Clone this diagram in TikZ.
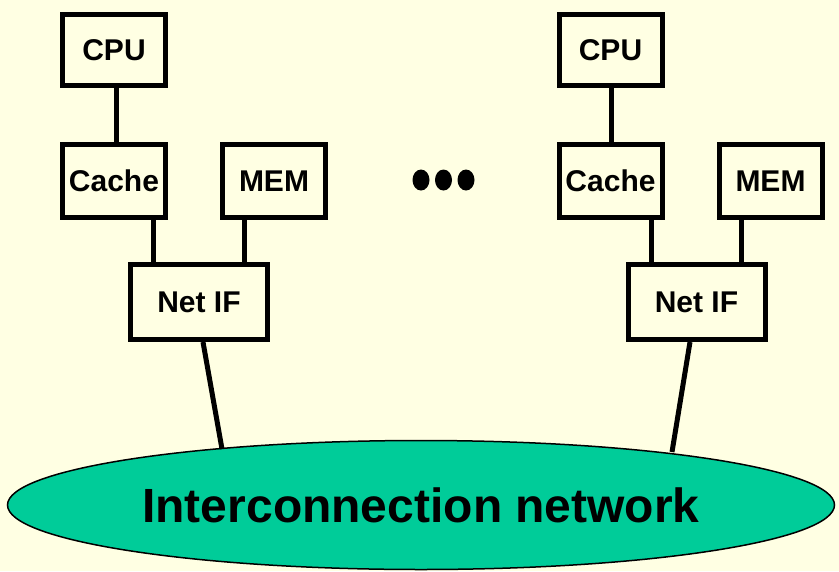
\documentclass[tikz,border=0pt]{standalone}
\usepackage{fontspec}
\setmainfont{Liberation Sans}
\usetikzlibrary{shapes.geometric}
\definecolor{bgyellow}{RGB}{255,255,227}
\definecolor{netgreen}{RGB}{0,204,153}
\tikzset{
  unit/.style={draw=black, line width=5pt, fill=bgyellow, inner sep=0pt,
    font=\fontsize{30}{33}\selectfont\bfseries},
  wire/.style={line width=5pt, line cap=butt},
  dotmark/.style={fill=black},
}
\begin{document}
\begin{tikzpicture}[x=1pt,y=-1pt]
\fill[bgyellow] (0,0) rectangle (839,571);
\useasboundingbox (0,0) rectangle (839,571);

% left processor
\node[unit, minimum width=103pt, minimum height=71pt] (cpuL) at (114,50) {CPU};
\node[unit, minimum width=103pt, minimum height=73pt] (cacheL) at (114,181) {Cache};
\node[unit, minimum width=103pt, minimum height=73pt] (memL) at (274,181) {MEM};
\node[unit, minimum width=137pt, minimum height=75pt] (netL) at (199,302) {Net IF};

% right processor
\node[unit, minimum width=103pt, minimum height=71pt] (cpuR) at (610.5,50) {CPU};
\node[unit, minimum width=103pt, minimum height=73pt] (cacheR) at (610.5,181) {Cache};
\node[unit, minimum width=103pt, minimum height=73pt] (memR) at (770.5,181) {MEM};
\node[unit, minimum width=137pt, minimum height=75pt] (netR) at (696.5,302) {Net IF};

% network
\node[ellipse, draw=black, line width=1.5pt, fill=netgreen, inner sep=0pt,
  minimum width=827pt, minimum height=129pt,
  font=\fontsize{48}{52}\selectfont\bfseries] (icn) at (421,505) {Interconnection network};
\coordinate (icnL) at (222,449);
\coordinate (icnR) at (672,452);

% connectors
\draw[wire] ([xshift=2pt]cpuL.south) -- ([xshift=2pt]cacheL.north);
\path ([xshift=39pt]cacheL.south) coordinate (cl1);
\draw[wire] (cl1) -- (cl1 |- netL.north);
\path ([xshift=-30pt]memL.south) coordinate (ml1);
\draw[wire] (ml1) -- (ml1 |- netL.north);

\draw[wire] ([xshift=0.5pt]cpuR.south) -- ([xshift=0.5pt]cacheR.north);
\path ([xshift=40.5pt]cacheR.south) coordinate (cr1);
\draw[wire] (cr1) -- (cr1 |- netR.north);
\path ([xshift=-29.5pt]memR.south) coordinate (mr1);
\draw[wire] (mr1) -- (mr1 |- netR.north);

\draw[wire] ([xshift=4pt]netL.south) -- (icnL);
\draw[wire] ([xshift=-6.5pt]netR.south) -- (icnR);

% ellipsis dots
\fill[dotmark] (421,180) ellipse [x radius=8.5, y radius=10.5];
\fill[dotmark] (443.5,180) ellipse [x radius=8.5, y radius=10.5];
\fill[dotmark] (466,180) ellipse [x radius=8.5, y radius=10.5];
\end{tikzpicture}
\end{document}
